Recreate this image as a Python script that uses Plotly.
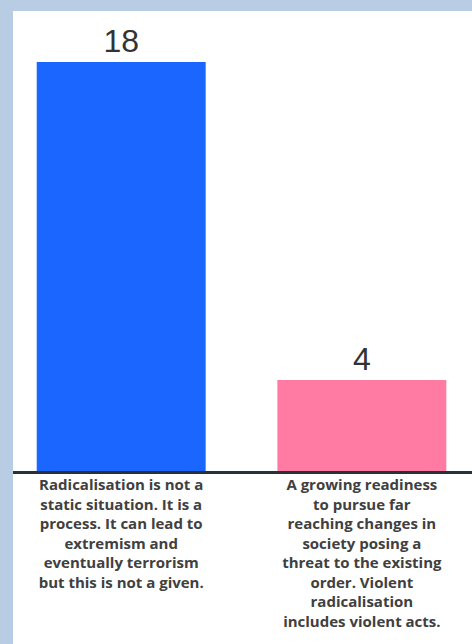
import plotly.graph_objects as go

categories = ["c1", "c2"]
values = [18, 4]
tick_labels = [
    "Radicalisation is not a<br>static situation. It is a<br>process. It can lead to<br>extremism and<br>eventually terrorism<br>but this is not a given.",
    "A growing readiness<br>to pursue far<br>reaching changes in<br>society posing a<br>threat to the existing<br>order. Violent<br>radicalisation<br>includes violent acts.",
]
bar_colors = ["#1a66ff", "#ff7ba4"]

W, H = 472, 644
ml, mt, mb = 13, 14, 173
plot_h = H - mt - mb

fig = go.Figure(
    go.Bar(
        x=categories,
        y=values,
        width=0.702,
        marker=dict(color=bar_colors, line=dict(width=0)),
        text=[str(v) for v in values],
        textposition="outside",
        textfont=dict(family="Liberation Sans, Arial", size=32, color="#333333"),
        cliponaxis=False,
    )
)

fig.update_layout(
    width=W,
    height=H,
    margin=dict(l=ml, r=0, t=mt, b=mb, pad=0),
    paper_bgcolor="#b8cce4",
    plot_bgcolor="white",
    showlegend=False,
    shapes=[
        dict(
            type="rect", xref="paper", yref="paper",
            x0=0, x1=1.01, y0=-(mb + 5) / plot_h, y1=1 + 3 / plot_h,
            fillcolor="white", line=dict(width=0), layer="below",
        )
    ],
    xaxis=dict(
        range=[-0.4496, 1.4577],
        tickvals=categories,
        ticktext=tick_labels,
        tickangle=0,
        showline=True,
        linecolor="#2b2f3a",
        linewidth=3,
        ticks="",
        ticklabelstandoff=-2,
        showgrid=False,
        zeroline=False,
        tickfont=dict(family="Open Sans", size=15, color="#404040", weight=700),
        fixedrange=True,
    ),
    yaxis=dict(
        range=[0, plot_h / (409 / 18)],
        visible=False,
        showgrid=False,
        zeroline=False,
        fixedrange=True,
    ),
)

fig.write_html("out.html", config={"displayModeBar": False})
